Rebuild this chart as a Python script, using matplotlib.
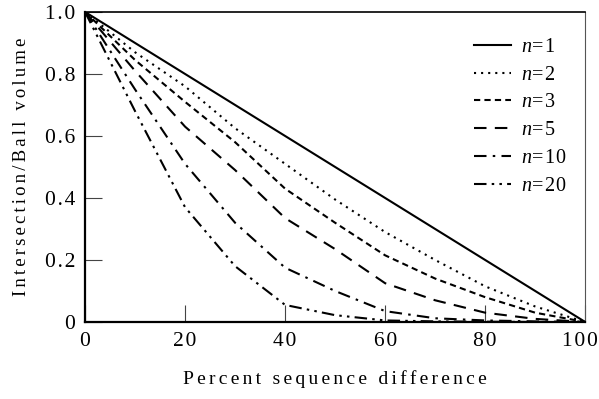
import numpy as np
import matplotlib
matplotlib.use('Agg')
import matplotlib.pyplot as plt
import matplotlib.transforms as mtransforms

plt.rcParams['font.family'] = ['Liberation Serif', 'DejaVu Serif']
plt.rcParams['mathtext.fontset'] = 'custom'
plt.rcParams['mathtext.it'] = 'Liberation Serif:italic'
plt.rcParams['mathtext.rm'] = 'Liberation Serif'

# percent sequence difference
x = [0, 10, 20, 30, 40, 50, 60, 70, 80, 90, 100]

# intersection / ball volume
n1 = [1.0, 0.9, 0.8, 0.7, 0.6, 0.5, 0.4, 0.3, 0.2, 0.1, 0.0]
n2 = [1.0, 0.87, 0.76, 0.625, 0.51, 0.395, 0.29, 0.2, 0.115, 0.05, 0.0]
n3 = [1.0, 0.845, 0.71, 0.58, 0.43, 0.32, 0.215, 0.14, 0.08, 0.03, 0.0]
n5 = [1.0, 0.81, 0.63, 0.49, 0.335, 0.235, 0.125, 0.07, 0.03, 0.01, 0.0]
n10 = [1.0, 0.75, 0.51, 0.32, 0.175, 0.1, 0.035, 0.012, 0.005, 0.002, 0.0]
n20 = [1.0, 0.68, 0.37, 0.18, 0.055, 0.022, 0.005, 0.002, 0.001, 0.0, 0.0]

series = [('1', n1, '-'),
          ('2', n2, (0, (1, 2.4))),
          ('3', n3, (0, (3, 2))),
          ('5', n5, (0, (6, 4))),
          ('10', n10, (0, (6, 3, 1.2, 3))),
          ('20', n20, (0, (6, 2.5, 1.2, 2.5, 1.2, 2.5)))]

xticks = [0, 20, 40, 60, 80, 100]
xtick_labels = ['0', '20', '40', '60', '80', '100']
yticks = [0, 0.2, 0.4, 0.6, 0.8, 1.0]
ytick_labels = ['0', '0.2', '0.4', '0.6', '0.8', '1.0']


def spaced(s, sp='\u2006'):
    # wide letter spacing like the original
    return sp.join(s)


fig = plt.figure(figsize=(5.99, 3.99), dpi=100)
ax = fig.add_axes([0.142, 0.193, 0.835, 0.777])

for name, vals, ls in series:
    ax.plot(x, vals, color='black', lw=1.5, linestyle=ls,
            label='$n$' + spaced('=' + name, '\u200a'))

ax.set_xlim(0, 100)
ax.set_ylim(0, 1.0)
ax.set_xticks(xticks)
ax.set_xticklabels([spaced(t, '\u200a') for t in xtick_labels])
ax.set_yticks(yticks)
ax.set_yticklabels([spaced(t, '\u200a') for t in ytick_labels])
ax.tick_params(direction='in', length=12, width=0.8, color='#444444',
               labelsize=15.5, pad=7)

# last x label sits at the figure edge, pull it in a little
lbl = ax.get_xticklabels()[-1]
lbl.set_transform(lbl.get_transform() +
                  mtransforms.ScaledTranslation(-5 / 100, 0, fig.dpi_scale_trans))

for side in ['left', 'bottom']:
    ax.spines[side].set_linewidth(1.6)
ax.spines['top'].set_linewidth(1.2)
ax.spines['right'].set_linewidth(0.8)
ax.spines['right'].set_color('#555555')

ax.set_xlabel(spaced('Percent sequence difference'), fontsize=14)
ax.set_ylabel(spaced('Intersection/Ball volume'), fontsize=13.5)
ax.xaxis.set_label_coords(0.5, -0.155)
ax.yaxis.set_label_coords(-0.11, 0.5)

leg = ax.legend(loc='upper right', frameon=False, fontsize=14.5,
                handlelength=1.85, handletextpad=0.5, labelspacing=0.43,
                bbox_to_anchor=(1.0, 0.975))

fig.savefig('out.png', dpi=100)
